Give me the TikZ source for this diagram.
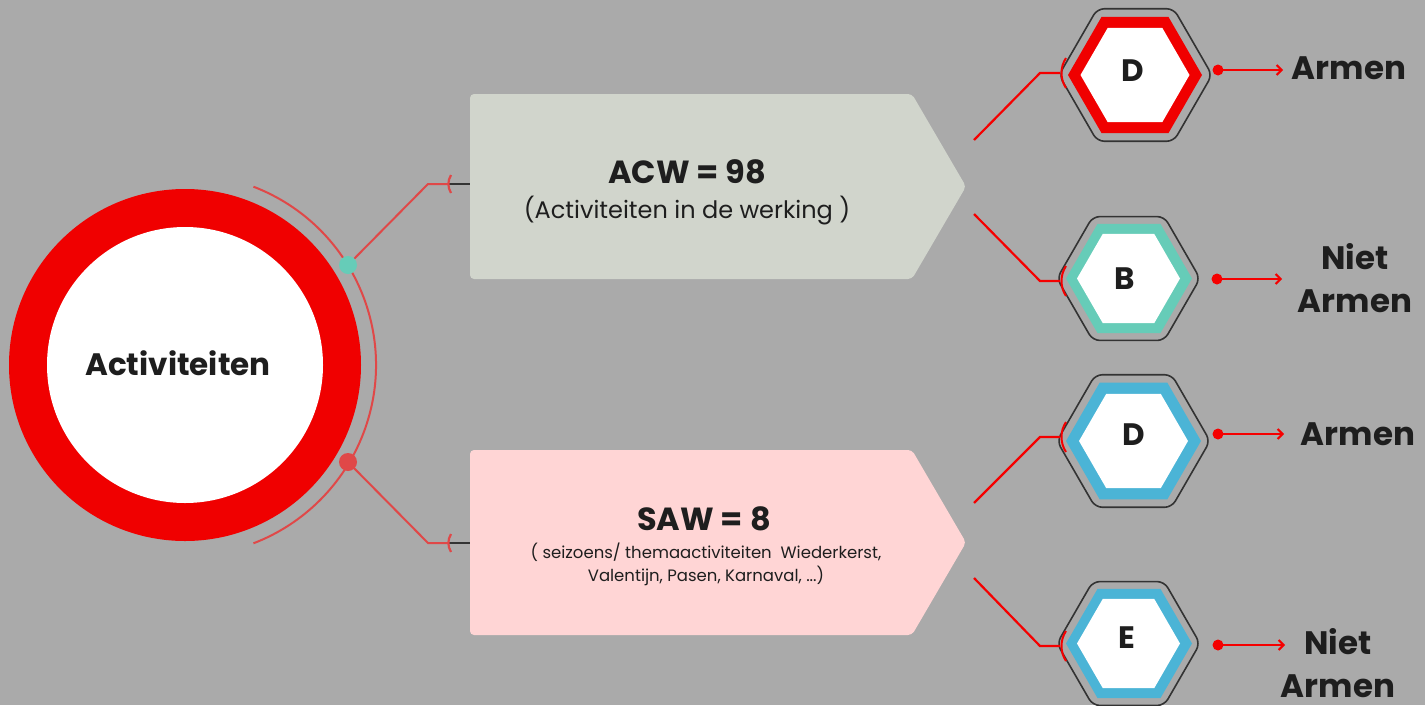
\documentclass[tikz,border=0pt]{standalone}
\usepackage{fontspec}
\setmainfont{Poppins}
\usetikzlibrary{shapes.geometric,arrows.meta,calc}
\definecolor{bg}{HTML}{AAAAAA}
\definecolor{ringred}{HTML}{F00000}
\definecolor{conred}{HTML}{E04848}
\definecolor{pured}{HTML}{F50000}
\definecolor{tealc}{HTML}{66CCB8}
\definecolor{bluec}{HTML}{4BB4D6}
\definecolor{acwc}{HTML}{D1D5CC}
\definecolor{sawc}{HTML}{FFD5D5}
\definecolor{ink}{HTML}{1E1E1E}
\definecolor{outl}{HTML}{333333}
\begin{document}
\begin{tikzpicture}[x=1pt,y=-1pt,
  hexo/.style={shape=regular polygon, regular polygon sides=6, inner sep=0pt, outer sep=0pt, draw=outl, line width=1.6pt, rounded corners=7pt, minimum size=#1},
  hexf/.style={shape=regular polygon, regular polygon sides=6, inner sep=0pt, outer sep=0pt, minimum size=#1},
  biglbl/.style={font=\fontsize{32.5}{43}\selectfont\bfseries, text=ink, align=center, inner sep=0pt},
  letter/.style={font=\fontsize{31}{38}\selectfont\bfseries, text=ink, inner sep=0pt},
  title/.style={font=\fontsize{32}{38}\selectfont\bfseries, text=ink, inner sep=0pt},
  sub/.style={font=\fontsize{24}{30}\selectfont, text=ink, inner sep=0pt},
  smallsub/.style={font=\fontsize{16.5}{23}\selectfont, text=ink, inner sep=0pt, align=center},
  conline/.style={draw=conred, line width=2pt},
  hexline/.style={draw=pured, line width=2.2pt},
  tee/.style={draw=pured, line width=2pt},
  darkline/.style={draw=outl, line width=2.5pt},
  outarrow/.style={draw=pured, line width=2pt, -{Straight Barb[length=5pt,width=10pt,line width=2pt]}},
]
\fill[bg] (0,0) rectangle (1425,705);
\useasboundingbox (0,0) rectangle (1425,705);

% ---- main circle ----
\node[circle, fill=ringred, minimum size=352pt, inner sep=0pt] (ring) at (185,365) {};
\node[circle, fill=white, minimum size=276pt, inner sep=0pt] (inner) at (185,365) {};
\node[title, font=\fontsize{31}{36}\selectfont\bfseries] (act) at (178,363) {Activiteiten};
\draw[conline] (ring.center) ++(-69:191) arc[start angle=-69, end angle=69, radius=191];

% ---- boxes ----
\fill[acwc, rounded corners=4pt] (470,94) -- (912,94) -- (966,186.5) -- (912,279) -- (470,279) -- cycle;
\fill[sawc, rounded corners=4pt] (470,450) -- (912,450) -- (966,542.5) -- (912,635) -- (470,635) -- cycle;
\node[title] (acw) at (687,172) {ACW = 98};
\node[sub] (acwsub) at (687,211) {(Activiteiten in de werking )};
\node[title] (saw) at (704,519) {SAW = 8};
\node[smallsub] (sawsub) at (706,564) {( seizoens/ themaactiviteiten\ \ Wiederkerst,\\Valentijn, Pasen, Karnaval, ...)};

% ---- circle connectors ----
\coordinate (p1) at (348,265);
\coordinate (p2) at (348,462);
\coordinate (q1) at (428,184);
\coordinate (q2) at (428,543);
\coordinate (t1) at (449,184);
\coordinate (t2) at (449,543);
\coordinate (acwin) at (470,184);
\coordinate (sawin) at (470,543);
\draw[conline] (p1) -- (q1) -- (t1);
\draw[conline] (p2) -- (q2) -- (t2);
\draw[darkline] (t1) -- (acwin);
\draw[darkline] (t2) -- (sawin);
\foreach \t in {t1,t2}{
  \draw[draw=conred, line width=2.2pt] ([shift={(2,-9)}]\t) .. controls ([shift={(-1.5,-3)}]\t) and ([shift={(-1.5,3)}]\t) .. ([shift={(2,9)}]\t);
}
\node[circle, fill=tealc, minimum size=18pt, inner sep=0pt] (dot1) at (p1) {};
\node[circle, fill=conred, minimum size=18pt, inner sep=0pt] (dot2) at (p2) {};

% ---- hexagons ----
\node[hexo=153] (hD1) at (1135.5,75) {};
\node[hexf=134, fill=ringred] (fD1) at (1135,75) {};
\node[hexf=109, fill=white] (wD1) at (1135,75) {};
\node[letter] (lD1) at (1133,71) {D};

\node[hexo=143] (hB) at (1128.5,278.5) {};
\node[hexf=126, fill=tealc] (fB) at (1129,278.5) {};
\node[hexf=103, fill=white] (wB) at (1128.5,278.5) {};
\node[letter] (lB) at (1125,279) {B};

\node[hexo=153] (hD2) at (1133.5,441) {};
\node[hexf=135, fill=bluec] (fD2) at (1133.5,441) {};
\node[hexf=109, fill=white] (wD2) at (1133.5,441) {};
\node[letter] (lD2) at (1134,435) {D};

\node[hexo=143] (hE) at (1128.5,643.5) {};
\node[hexf=126, fill=bluec] (fE) at (1129,643.5) {};
\node[hexf=103, fill=white] (wE) at (1128.5,643.5) {};
\node[letter] (lE) at (1127,638) {E};

% ---- hexagon connectors (left) ----
\coordinate (s1) at (974,140);  \coordinate (k1) at (1040,73);  \coordinate (e1) at (1060,73);
\coordinate (s2) at (974,214);  \coordinate (k2) at (1040,281); \coordinate (e2) at (1060,281);
\coordinate (s3) at (974,503);  \coordinate (k3) at (1040,437); \coordinate (e3) at (1060,437);
\coordinate (s4) at (974,578);  \coordinate (k4) at (1040,646); \coordinate (e4) at (1060,646);
\foreach \i in {1,2,3,4}{
  \draw[hexline] (s\i) -- (k\i) -- (e\i);
  \draw[tee] ([shift={(6,-15)}]e\i) .. controls ([shift={(0,-6)}]e\i) and ([shift={(0,6)}]e\i) .. ([shift={(6,15)}]e\i);
}

% ---- right arrows ----
\coordinate (r1) at (1218,70);  \coordinate (a1) at (1283,70);
\coordinate (r2) at (1217,279); \coordinate (a2) at (1282,279);
\coordinate (r3) at (1218,434); \coordinate (a3) at (1284,434);
\coordinate (r4) at (1218,645); \coordinate (a4) at (1285,645);
\foreach \i in {1,2,3,4}{
  \draw[outarrow] (r\i) -- (a\i);
  \fill[pured] (r\i) circle[radius=5.5];
}
\node[biglbl] (o1) at (1349,68) {Armen};
\node[biglbl] (o2) at (1355,278) {Niet\\Armen};
\node[biglbl] (o3) at (1358,434) {Armen};
\node[biglbl] (o4) at (1338,663) {Niet\\Armen};
\end{tikzpicture}
\end{document}
